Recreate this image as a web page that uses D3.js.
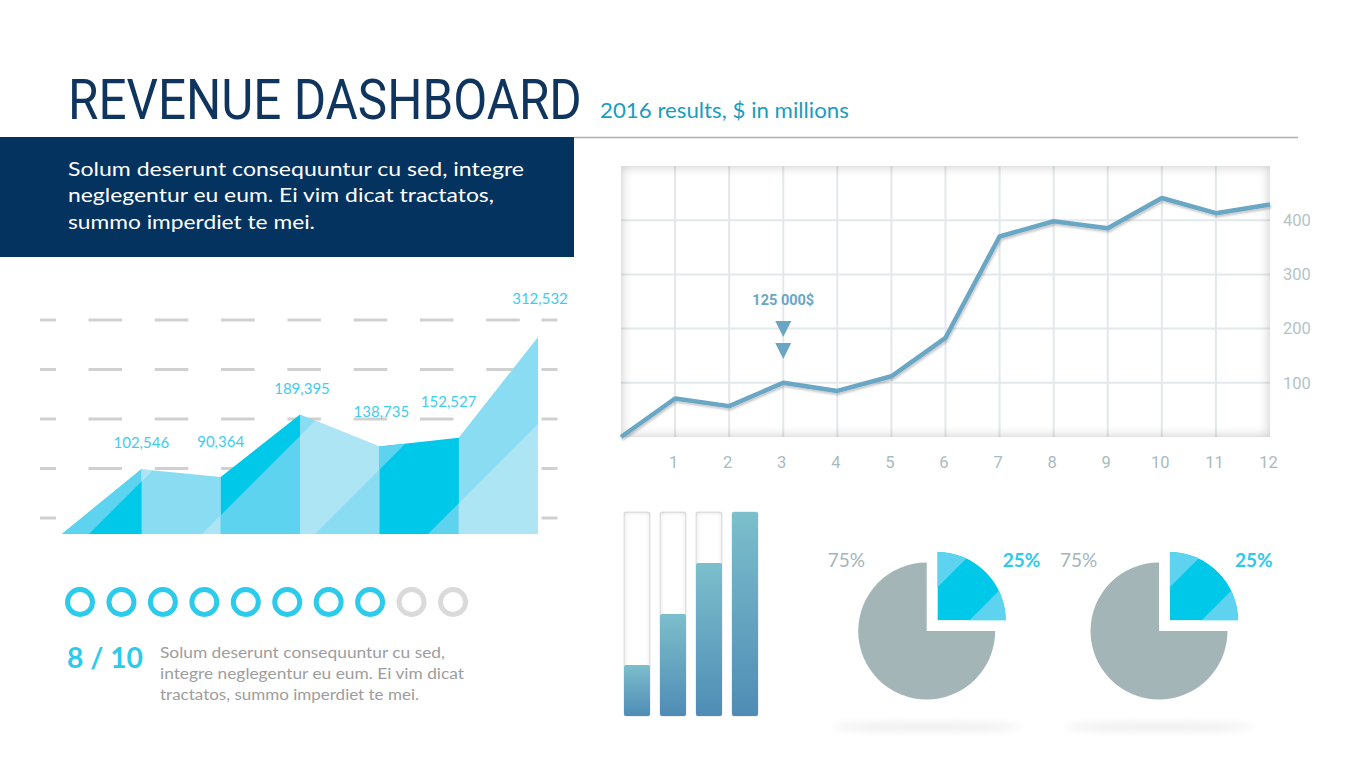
<!DOCTYPE html>
<html><head><meta charset="utf-8">
<script src="https://cdn.jsdelivr.net/npm/d3@7"></script>
<style>html,body{margin:0;padding:0;background:#fff;}svg{display:block;}</style>
</head><body>
<svg id="chart" width="1365" height="766"></svg>
<script>
// ---------- DATA ----------
const titleText = "REVENUE DASHBOARD";
const subtitleText = "2016 results, $ in millions";
const introLines = ["Solum deserunt consequuntur cu sed, integre", "neglegentur eu eum. Ei vim dicat tractatos,", "summo imperdiet te mei."];
const areaValues = [102546, 90364, 189395, 138735, 152527, 312532];
const areaLabels = ["102,546", "90,364", "189,395", "138,735", "152,527", "312,532"];
const ratingScore = 8;
const ratingTotal = 10;
const ratingLabel = "8 / 10";
const ratingLines = ["Solum deserunt consequuntur cu sed,", "integre neglegentur eu eum. Ei vim dicat", "tractatos, summo imperdiet te mei."];
const months = [0, 1, 2, 3, 4, 5, 6, 7, 8, 9, 10, 11, 12];
const monthTicks = [1, 2, 3, 4, 5, 6, 7, 8, 9, 10, 11, 12];
const revenue = [0, 71, 57, 100, 85, 112, 183, 370, 398, 385, 441, 413, 429];
const revenueTicks = [100, 200, 300, 400];
const annotationMonth = 3;
const annotationText = "125 000$";
const gaugeValues = [25, 50, 75, 100];
const pieValues = [25, 75];
const pieLabels = ["25%", "75%"];
const pieCount = [0, 1];

// ---------- SETUP ----------
const svg = d3.select("#chart");
const defs = svg.append("defs");
const F = "Lato, 'Open Sans', sans-serif";
const R = "Roboto, sans-serif";

function insetFilter(id, std, op) {
  const f = defs.append("filter").attr("id", id).attr("x", "-10%").attr("y", "-10%").attr("width", "120%").attr("height", "120%");
  f.append("feFlood").attr("flood-color", "#000").attr("flood-opacity", op);
  f.append("feComposite").attr("in2", "SourceAlpha").attr("operator", "out");
  f.append("feGaussianBlur").attr("stdDeviation", std);
  f.append("feComposite").attr("in2", "SourceAlpha").attr("operator", "in");
}
insetFilter("insetPanel", 6, 0.22);
insetFilter("insetGauge", 2.5, 0.16);
const ds = defs.append("filter").attr("id", "lineShadow").attr("x", "-5%").attr("y", "-5%").attr("width", "110%").attr("height", "120%");
ds.append("feDropShadow").attr("dx", 1).attr("dy", 2).attr("stdDeviation", 1.2).attr("flood-color", "#000").attr("flood-opacity", 0.22);
const blur = defs.append("filter").attr("id", "blurShadow").attr("x", "-30%").attr("y", "-300%").attr("width", "160%").attr("height", "700%");
blur.append("feGaussianBlur").attr("stdDeviation", 4);

// fit text horizontally via a scale transform
function fitWidth(sel, x, w) {
  const len = sel.node().getComputedTextLength();
  const s = w / len;
  sel.attr("x", 0).attr("transform", `translate(${x},0) scale(${s},1)`);
}

// ---------- HEADER ----------
const title = svg.append("text").attr("y", 119).text(titleText)
  .attr("font-family", R).attr("font-size", 55).attr("fill", "#0f355f");
fitWidth(title, 68, 514);
const sub = svg.append("text").attr("y", 118).text(subtitleText)
  .attr("font-family", F).attr("font-size", 21).attr("fill", "#1a9cc0");
fitWidth(sub, 600, 249);
svg.append("line").attr("x1", 574).attr("x2", 1298).attr("y1", 137.5).attr("y2", 137.5)
  .attr("stroke", "#a9afb2").attr("stroke-width", 1.5);
svg.append("rect").attr("x", 0).attr("y", 137).attr("width", 574).attr("height", 120).attr("fill", "#04335f");
const introLen = [456, 426, 247];
svg.append("g").selectAll("text").data(introLines).join("text")
  .attr("x", 68).attr("y", (d, i) => 176 + i * 26.3).text(d => d)
  .attr("font-family", F).attr("font-size", 20).attr("fill", "#fff")
  .attr("textLength", (d, i) => introLen[i]).attr("lengthAdjust", "spacingAndGlyphs");

// ---------- AREA CHART ----------
const areaPts = [0, ...areaValues];
const ax = d3.scaleLinear().domain([0, areaValues.length]).range([62, 538]);
const ay = d3.scaleLinear().domain([0, 312532]).range([534, 337]);
const base = ay(0);

const gridG = svg.append("g");
const gridYs = d3.range(5).map(k => 320 + k * 49.5);
const dashSegs = [[40, 56]].concat(d3.range(7).map(k => [88.5 + 66.3 * k, 122 + 66.3 * k])).concat([[541.5, 557.5]]);
gridYs.forEach(gy => {
  gridG.selectAll(null).data(dashSegs).join("line")
    .attr("x1", d => d[0]).attr("x2", d => d[1]).attr("y1", gy).attr("y2", gy)
    .attr("stroke", "#d0d0d0").attr("stroke-width", 3);
});

const areaGen = d3.area().x((d, i) => ax(i)).y0(base).y1(d => ay(d));
defs.append("clipPath").attr("id", "areaClip").append("path").attr("d", areaGen(areaPts));
const areaG = svg.append("g").attr("clip-path", "url(#areaClip)");
const famColors = [["#00c8e8", "#5dd3ef"], ["#8adcf2", "#ade5f5"]];
const band0 = 89, bandW = 113, H = 400;
d3.range(areaValues.length).forEach(i => {
  const x0 = ax(i), x1 = ax(i + 1);
  defs.append("clipPath").attr("id", "seg" + i).append("rect")
    .attr("x", x0).attr("y", 250).attr("width", x1 - x0 + 0.8).attr("height", 300);
  const g = areaG.append("g").attr("clip-path", `url(#seg${i})`);
  const cols = famColors[i % 2];
  g.append("rect").attr("x", x0).attr("y", 250).attr("width", x1 - x0 + 0.8).attr("height", 300).attr("fill", cols[0]);
  [-1, 1, 3, 5].forEach(b => {
    const c1 = b === -1 ? -600 : band0 + bandW * b, c2 = band0 + bandW * (b + 1);
    const poly = [[c1 - 10, base + 10], [c2 - 10, base + 10], [c2 + H, base - H], [c1 + H, base - H]];
    g.append("polygon").attr("points", poly.map(p => p.join(",")).join(" ")).attr("fill", cols[1]);
  });
});
const labOff = [21, 30, 21, 30, 31, 33];
const labDx = [0, 0, 2, 2, -10, 2];
svg.append("g").selectAll("text").data(areaValues).join("text")
  .attr("x", (d, i) => ax(i + 1) + labDx[i]).attr("y", (d, i) => ay(d) - labOff[i])
  .attr("text-anchor", "middle").text((d, i) => areaLabels[i])
  .attr("font-family", F).attr("font-size", 15).attr("fill", "#3ecdee");

// ---------- RATING ----------
const rx = d3.scalePoint().domain(d3.range(ratingTotal)).range([80, 453]);
svg.append("g").selectAll("circle").data(d3.range(ratingTotal)).join("circle")
  .attr("cx", d => rx(d)).attr("cy", 602).attr("r", 12.5)
  .attr("fill", "none").attr("stroke-width", 5)
  .attr("stroke", d => d < ratingScore ? "#2ccbec" : "#dadada");
svg.append("text").attr("x", 67).attr("y", 668).text(ratingLabel)
  .attr("font-family", F).attr("font-weight", 700).attr("font-size", 28).attr("fill", "#2ccbec")
  .attr("textLength", 76).attr("lengthAdjust", "spacingAndGlyphs");
const ratingLen = [285, 304, 259];
svg.append("g").selectAll("text").data(ratingLines).join("text")
  .attr("x", 160).attr("y", (d, i) => 658 + i * 20.8).text(d => d)
  .attr("font-family", F).attr("font-size", 15.5).attr("fill", "#9d9d9d")
  .attr("textLength", (d, i) => ratingLen[i]).attr("lengthAdjust", "spacingAndGlyphs");

// ---------- LINE CHART ----------
const lx = d3.scaleLinear().domain([0, 12]).range([621, 1270]);
const ly = d3.scaleLinear().domain([0, 500]).range([437, 166]);
const panel = svg.append("g");
panel.append("rect").attr("x", lx(0)).attr("y", ly(500)).attr("width", lx(12) - lx(0)).attr("height", ly(0) - ly(500)).attr("fill", "#fff");
panel.selectAll("line.v").data(monthTicks.slice(0, 11)).join("line").attr("class", "v")
  .attr("x1", d => lx(d)).attr("x2", d => lx(d)).attr("y1", ly(500)).attr("y2", ly(0))
  .attr("stroke", "#e3e8ea").attr("stroke-width", 2);
panel.selectAll("line.h").data(revenueTicks).join("line").attr("class", "h")
  .attr("x1", lx(0)).attr("x2", lx(12)).attr("y1", d => ly(d)).attr("y2", d => ly(d))
  .attr("stroke", "#e3e8ea").attr("stroke-width", 2);
panel.append("rect").attr("x", lx(0)).attr("y", ly(500)).attr("width", lx(12) - lx(0)).attr("height", ly(0) - ly(500))
  .attr("fill", "#fff").attr("filter", "url(#insetPanel)");
panel.append("path").datum(revenue)
  .attr("d", d3.line().x((d, i) => lx(months[i])).y(d => ly(d)))
  .attr("fill", "none").attr("stroke", "#69a7c5").attr("stroke-width", 4.5)
  .attr("stroke-linejoin", "round").attr("filter", "url(#lineShadow)");

const xAxis = svg.append("g").attr("transform", `translate(-2,${ly(0) + 19})`)
  .call(d3.axisBottom(lx).tickValues(monthTicks).tickSize(0).tickPadding(0));
xAxis.select(".domain").remove();
xAxis.selectAll("text").attr("font-family", R).attr("font-size", 16.5).attr("fill", "#a8bbc0");
const yAxis = svg.append("g").attr("transform", `translate(${lx(12) + 13},0)`)
  .call(d3.axisRight(ly).tickValues(revenueTicks).tickSize(0).tickPadding(0));
yAxis.select(".domain").remove();
yAxis.selectAll("text").attr("font-family", R).attr("font-size", 16.5).attr("fill", "#b3c3c7");

const ann = svg.append("g").attr("transform", `translate(${lx(annotationMonth)},0)`);
ann.append("text").attr("x", 0).attr("y", 305).attr("text-anchor", "middle").text(annotationText)
  .attr("font-family", R).attr("font-weight", 700).attr("font-size", 14.5).attr("fill", "#6aa6c4");
ann.selectAll("path").data([329, 351]).join("path")
  .attr("d", "M-8,-8L8,-8L0,8Z").attr("transform", d => `translate(0,${d})`).attr("fill", "#6aa6c4");

// ---------- GAUGES ----------
const gx = d3.scaleBand().domain(d3.range(gaugeValues.length)).range([624, 758]).paddingInner(0.278);
const gy = d3.scaleLinear().domain([0, 100]).range([716, 512]);
const gg = defs.append("linearGradient").attr("id", "gaugeFill").attr("x1", 0).attr("y1", 0).attr("x2", 0).attr("y2", 1);
gg.append("stop").attr("offset", "0%").attr("stop-color", "#7cbfcc");
gg.append("stop").attr("offset", "100%").attr("stop-color", "#4f8cb5");
const gaugeG = svg.append("g");
gaugeValues.forEach((v, i) => {
  const x = gx(i), w = gx.bandwidth();
  gaugeG.append("rect").attr("x", x).attr("y", gy(100)).attr("width", w).attr("height", gy(0) - gy(100)).attr("rx", 2)
    .attr("fill", "#fff").attr("stroke", "#e0e0e0").attr("stroke-width", 1);
  gaugeG.append("rect").attr("x", x).attr("y", gy(100)).attr("width", w).attr("height", gy(0) - gy(100)).attr("rx", 2)
    .attr("fill", "#fff").attr("filter", "url(#insetGauge)");
  gaugeG.append("rect").attr("x", x).attr("y", gy(v)).attr("width", w).attr("height", gy(0) - gy(v)).attr("rx", 2)
    .attr("fill", "url(#gaugeFill)");
});

// ---------- PIES ----------
const pcx = d3.scalePoint().domain(pieCount).range([926.7, 1159]);
const pieCy = 631, pieR = 68.5;
const arcs = d3.pie().sort(null)(pieValues);
const arcGen = d3.arc().innerRadius(0).outerRadius(pieR);
pieCount.forEach(k => {
  const cx = pcx(k);
  svg.append("ellipse").attr("cx", cx).attr("cy", 727).attr("rx", 95).attr("ry", 3.5)
    .attr("fill", "#000").attr("opacity", 0.09).attr("filter", "url(#blurShadow)");
  const g = svg.append("g").attr("transform", `translate(${cx},${pieCy})`);
  g.append("path").attr("d", arcGen(arcs[1])).attr("fill", "#a3b5b7");
  const mid = (arcs[0].startAngle + arcs[0].endAngle) / 2;
  const off = 15;
  const hg = g.append("g").attr("transform", `translate(${Math.sin(mid) * off},${-Math.cos(mid) * off})`);
  defs.append("clipPath").attr("id", "pieClip" + k).append("path").attr("d", arcGen(arcs[0]));
  const inner = hg.append("g").attr("clip-path", `url(#pieClip${k})`);
  inner.append("path").attr("d", arcGen(arcs[0])).attr("fill", "#00c8e8");
  const rot = inner.append("g").attr("transform", "rotate(45)");
  rot.append("rect").attr("x", -200).attr("y", -200).attr("width", 200 - 23.3).attr("height", 400).attr("fill", "#5dd3ef");
  rot.append("rect").attr("x", 22.6).attr("y", -200).attr("width", 200).attr("height", 400).attr("fill", "#5dd3ef");
  svg.append("text").attr("x", cx - 99).attr("y", 567).text(pieLabels[1])
    .attr("font-family", F).attr("font-size", 19).attr("fill", "#a3b5b7");
  svg.append("text").attr("x", cx + 76).attr("y", 567).text(pieLabels[0])
    .attr("font-family", F).attr("font-weight", 700).attr("font-size", 19).attr("fill", "#2ccbec");
});
</script>
</body></html>
